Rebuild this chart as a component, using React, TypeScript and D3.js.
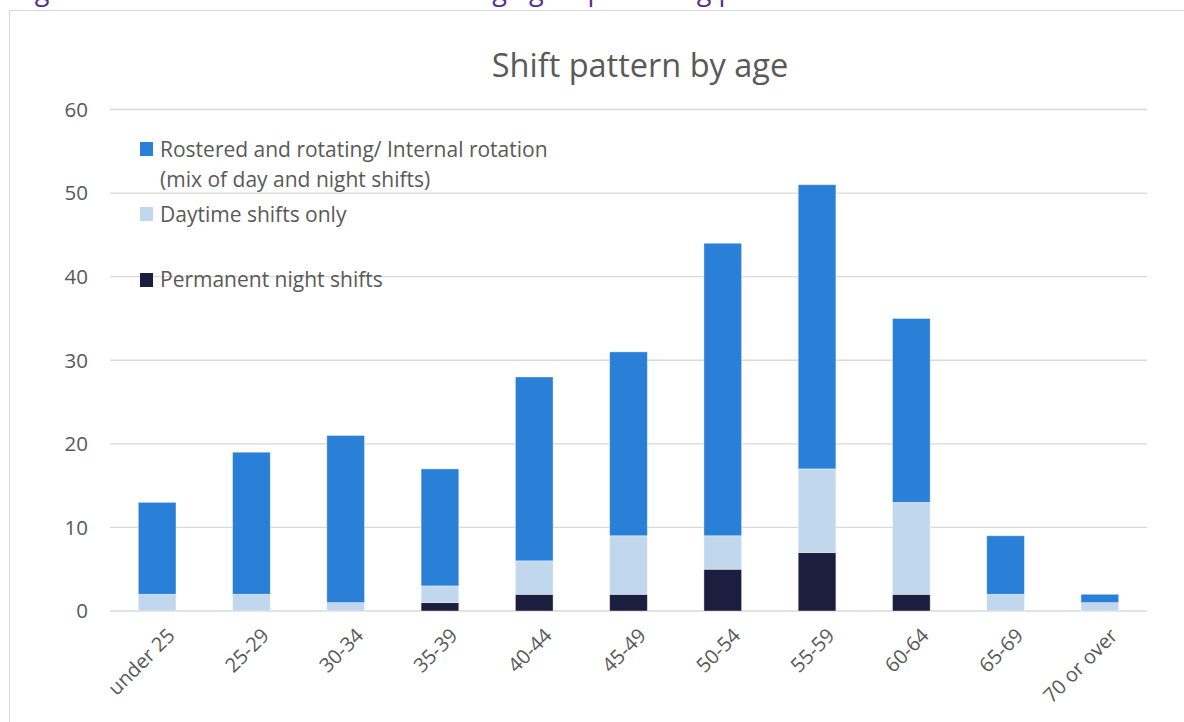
import React from "react";
import * as d3 from "d3";

const categories = ["under 25", "25-29", "30-34", "35-39", "40-44", "45-49", "50-54", "55-59", "60-64", "65-69", "70 or over"];
const nightShifts = [0, 0, 0, 1, 2, 2, 5, 7, 2, 0, 0];
const daytimeShifts = [2, 2, 1, 2, 4, 7, 4, 10, 11, 2, 1];
const rotating = [11, 17, 20, 14, 22, 22, 35, 34, 22, 7, 1];
const yTicks = [0, 10, 20, 30, 40, 50, 60];

const seriesKeys = ["night", "day", "rot"];
const seriesColors: Record<string, string> = { night: "#1c1e3f", day: "#c0d7ed", rot: "#2a7fd6" };

const W = 1184;
const H = 722;
const FONT = "'Open Sans', 'Noto Sans', sans-serif";
const TXT = "#595959";

export default function App() {
  const x = d3.scaleBand<string>().domain(categories).range([110, 1147]).paddingInner(0.6).paddingOuter(0.3);
  const y = d3.scaleLinear().domain([0, 60]).range([611, 109.5]);
  const rows = categories.map((c, i) => ({ cat: c, night: nightShifts[i], day: daytimeShifts[i], rot: rotating[i] }));
  const stacked = d3.stack<any>().keys(seriesKeys)(rows);

  return (
    <svg width={W} height={H} style={{ position: "absolute", left: 0, top: 0, background: "#fff" }} fontFamily={FONT}>
      <text x={14} y={0} fontSize={27} fill="#5b2d90">Figure 10: Number of nurses in each age group working particular shifts</text>
      <rect x={9.5} y={10.5} width={W} height={H} fill="#fff" stroke="#d9d9d9" strokeWidth={1} />
      <text x={640} y={77} textAnchor="middle" fontSize={32.5} fill={TXT}>Shift pattern by age</text>
      {yTicks.map((t) => (
        <g key={t}>
          <line x1={110} x2={1147} y1={y(t)} y2={y(t)} stroke="#d9d9d9" strokeWidth={1.3} />
          <text x={88} y={y(t)} dy="0.36em" textAnchor="end" fontSize={20.5} fill={TXT}>{t}</text>
        </g>
      ))}
      {stacked.map((s) => (
        <g key={s.key} fill={seriesColors[s.key]}>
          {s.map((d, i) =>
            d[1] - d[0] > 0 ? (
              <rect key={i} x={x(categories[i])!} y={y(d[1])} width={x.bandwidth()} height={y(d[0]) - y(d[1])} stroke="#ffffff" strokeOpacity={0.5} strokeWidth={0.8} />
            ) : null
          )}
        </g>
      ))}
      {categories.map((c) => {
        const cx = x(c)! + x.bandwidth() / 2;
        return (
          <text key={c} transform={`translate(${cx + 9},${627}) rotate(-45)`} textAnchor="end" dy="0.7em" fontSize={20} fill={TXT}>{c}</text>
        );
      })}
      <g fontSize={21} fill={TXT}>
        <rect x={140} y={142} width={13} height={14} fill={seriesColors.rot} />
        <text x={160} y={157}>Rostered and rotating/ Internal rotation</text>
        <text x={160} y={187}>(mix of day and night shifts)</text>
        <rect x={140} y={207} width={13} height={14} fill={seriesColors.day} />
        <text x={160} y={222}>Daytime shifts only</text>
        <rect x={140} y={273} width={13} height={14} fill={seriesColors.night} />
        <text x={160} y={287}>Permanent night shifts</text>
      </g>
    </svg>
  );
}
